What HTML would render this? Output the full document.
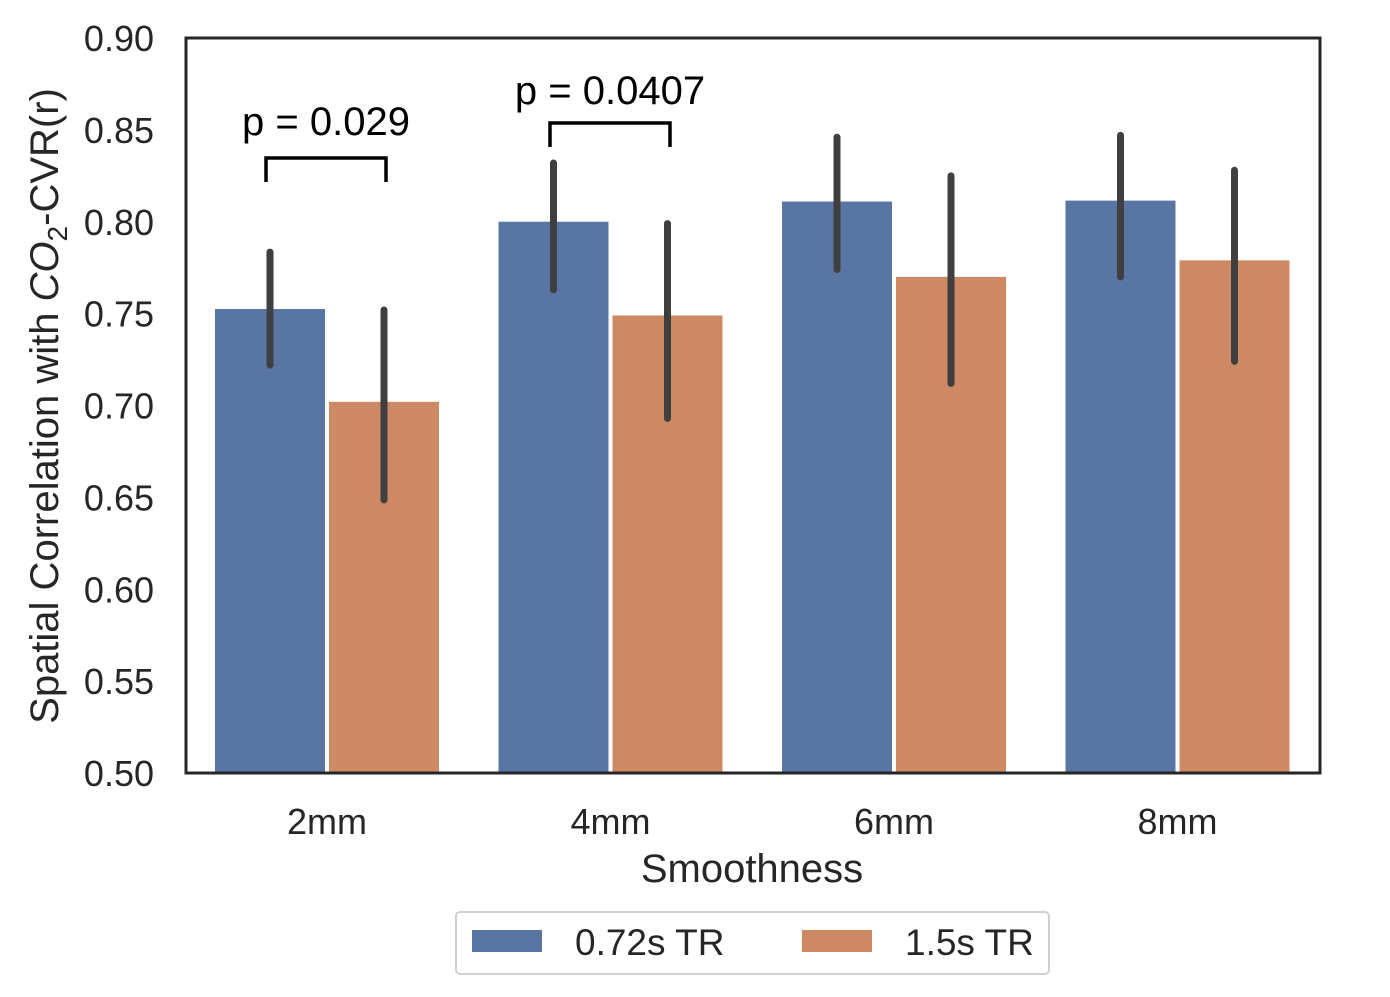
<!DOCTYPE html>
<html><head><meta charset="utf-8"><style>
body{margin:0;background:#fff;}
svg{display:block;font-family:"Liberation Sans",sans-serif;}
</style></head><body>
<svg id="chart" width="1390" height="997">
<g id="marks"></g>
<rect x="186" y="38" width="1134" height="735" fill="none" stroke="#262626" stroke-width="3"/>
<g id="ticks"></g>
<text x="752" y="882" font-size="40" text-anchor="middle" fill="#262626">Smoothness</text>
<text transform="translate(58,406) rotate(-90)" font-size="40" text-anchor="middle" fill="#262626">Spatial Correlation with <tspan font-style="italic">CO</tspan><tspan font-size="28" dy="9">2</tspan><tspan dy="-9">-CVR(r)</tspan></text>
<g>
<rect x="456" y="912" width="593" height="62" rx="4" fill="#fff" stroke="#d0d0d0" stroke-width="2"/>
<rect x="472" y="930" width="70" height="22" fill="#5875a4"/>
<text x="575" y="955" font-size="37" fill="#262626">0.72s TR</text>
<rect x="802" y="930" width="70" height="22" fill="#cc8963"/>
<text x="905" y="955" font-size="37" fill="#262626">1.5s TR</text>
</g>
<g fill="none" stroke="#000" stroke-width="3.5">
<path d="M266 182 V158 H386 V182"/>
<path d="M550 147 V123 H670 V147"/>
</g>
<text x="326" y="135" font-size="40" text-anchor="middle" fill="#000">p = 0.029</text>
<text x="610" y="104" font-size="40" text-anchor="middle" fill="#000">p = 0.0407</text>
</svg>
<script>
const categories=["2mm","4mm","6mm","8mm"];
const seriesA=[0.7525,0.800,0.811,0.8115];
const seriesB=[0.702,0.749,0.770,0.779];
const errLowA=[0.722,0.763,0.774,0.770];
const errHighA=[0.7835,0.832,0.846,0.847];
const errLowB=[0.6486,0.693,0.712,0.724];
const errHighB=[0.752,0.799,0.825,0.828];
const yTicks=["0.50","0.55","0.60","0.65","0.70","0.75","0.80","0.85","0.90"];
const NS="http://www.w3.org/2000/svg";
const y=v=>773-(v-0.5)/0.4*735;
const xc=i=>327+i*283.5;
const marks=document.getElementById('marks'),ticks=document.getElementById('ticks');
function mk(tag,attrs,parent){const e=document.createElementNS(NS,tag);for(const k in attrs)e.setAttribute(k,attrs[k]);parent.appendChild(e);return e;}
categories.forEach((c,i)=>{
  [[seriesA,errLowA,errHighA,"#5875a4",-1,"a"],[seriesB,errLowB,errHighB,"#cc8963",1,"b"]].forEach(([s,lo,hi,col,side,k])=>{
    const x0=side<0?xc(i)-112:xc(i)+2;
    const r=mk('rect',{x:x0,y:y(s[i]),width:110,height:773-y(s[i]),fill:col},marks);
    
    
    const l=mk('line',{x1:x0+55,x2:x0+55,y1:y(hi[i]),y2:y(lo[i]),stroke:"#3f3f3f","stroke-width":7,"stroke-linecap":"round"},marks);
    
    
  });
  const t=mk('text',{x:xc(i),y:834,"font-size":36,"text-anchor":"middle",fill:"#262626"},ticks);
  t.textContent=c;
  
  
});
yTicks.forEach(v=>{
  const t=mk('text',{x:154,y:y(+v)+13,"font-size":36,"text-anchor":"end",fill:"#262626"},ticks);
  t.textContent=v;
  
  
});
</script>
</body></html>
